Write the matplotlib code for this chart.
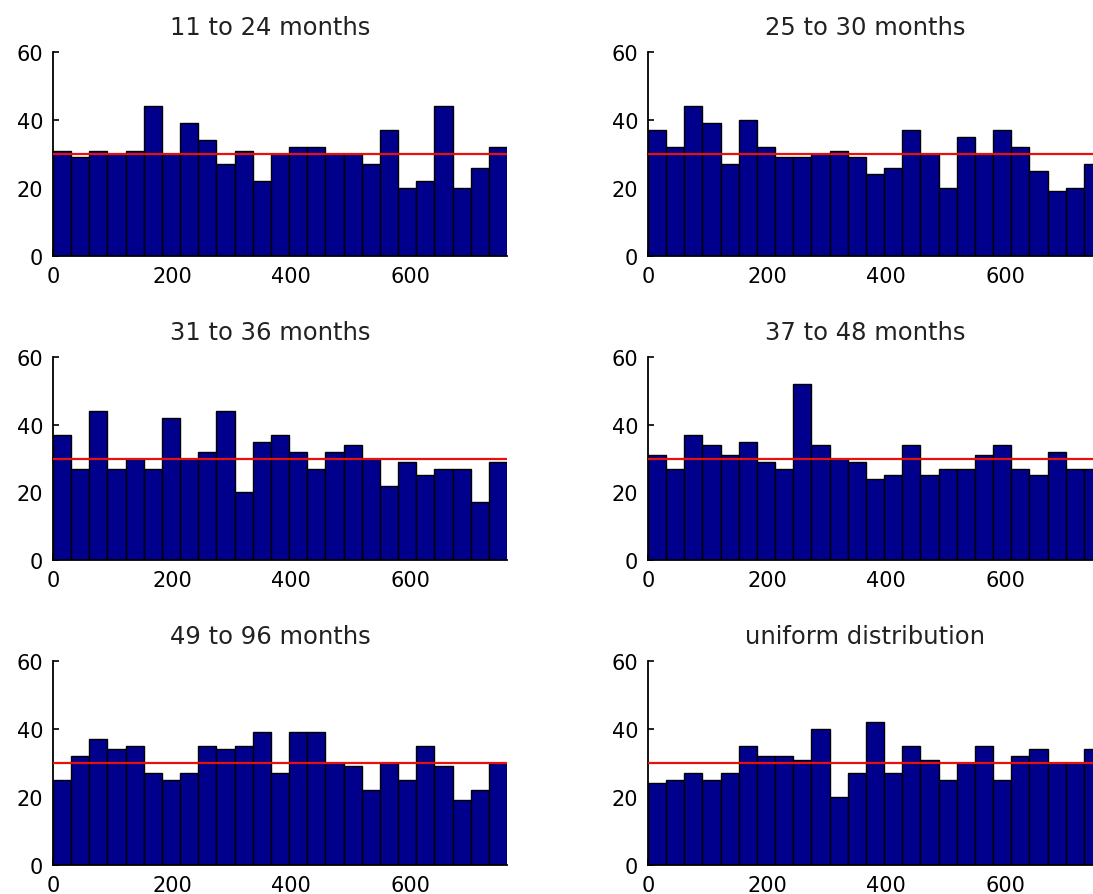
import matplotlib
matplotlib.use("Agg")
import matplotlib.pyplot as plt
import numpy as np

# histogram counts per bin (25 bins over 0..762)
titles = ["11 to 24 months", "25 to 30 months", "31 to 36 months",
          "37 to 48 months", "49 to 96 months", "uniform distribution"]

c_11_24 = [31, 29, 31, 30, 31, 44, 30, 39, 34, 27, 31, 22, 30,
           32, 32, 30, 30, 27, 37, 20, 22, 44, 20, 26, 32]
c_25_30 = [37, 32, 44, 39, 27, 40, 32, 29, 29, 30, 31, 29, 24,
           26, 37, 30, 20, 35, 30, 37, 32, 25, 19, 20, 27]
c_31_36 = [37, 27, 44, 27, 30, 27, 42, 30, 32, 44, 20, 35, 37,
           32, 27, 32, 34, 30, 22, 29, 25, 27, 27, 17, 29]
c_37_48 = [31, 27, 37, 34, 31, 35, 29, 27, 52, 34, 30, 29, 24,
           25, 34, 25, 27, 27, 31, 34, 27, 25, 32, 27, 27]
c_49_96 = [25, 32, 37, 34, 35, 27, 25, 27, 35, 34, 35, 39, 27,
           39, 39, 30, 29, 22, 30, 25, 35, 29, 19, 22, 30]
c_unif = [24, 25, 27, 25, 27, 35, 32, 32, 31, 40, 20, 27, 42,
          27, 35, 31, 25, 30, 35, 25, 32, 34, 30, 30, 34]

all_counts = [c_11_24, c_25_30, c_31_36, c_37_48, c_49_96, c_unif]
x_max = 762
mean_level = 30

W, H = 1093, 895
fig = plt.figure(figsize=(W / 100, H / 100), dpi=100)
plt.rcParams['font.family'] = ['DejaVu Sans']

lefts = [53, 648]
rows = [(53, 257), (358, 561), (662, 866)]
ax_w = 454

for i, counts in enumerate(all_counts):
    r, c = divmod(i, 2)
    top, bot = rows[r]
    ax = fig.add_axes([lefts[c] / W, 1 - bot / H, ax_w / W, (bot - top) / H])
    ax.set_axisbelow(True)
    n = len(counts)
    edges = np.linspace(0, x_max, n + 1)
    ax.bar(edges[:-1], counts, width=np.diff(edges), align='edge',
           color='#00008c', edgecolor='black', linewidth=1.0)
    ax.axhline(mean_level, color='#e8100c', linewidth=1.6, zorder=3)
    ax.set_xlim(0, x_max)
    ax.set_ylim(0, 60)
    ax.set_xticks([0, 200, 400, 600])
    ax.set_yticks([0, 20, 40, 60])
    ax.spines['top'].set_visible(False)
    ax.spines['right'].set_visible(False)
    ax.spines['left'].set_linewidth(1.3)
    ax.spines['bottom'].set_linewidth(1.3)
    ax.tick_params(direction='in', length=4, width=1.2, labelsize=15,
                   pad=7, colors='black')
    ax.set_title(titles[i], fontsize=17.5, x=0.478, pad=13, color='#222222')

fig.savefig("out.png", dpi=100)
